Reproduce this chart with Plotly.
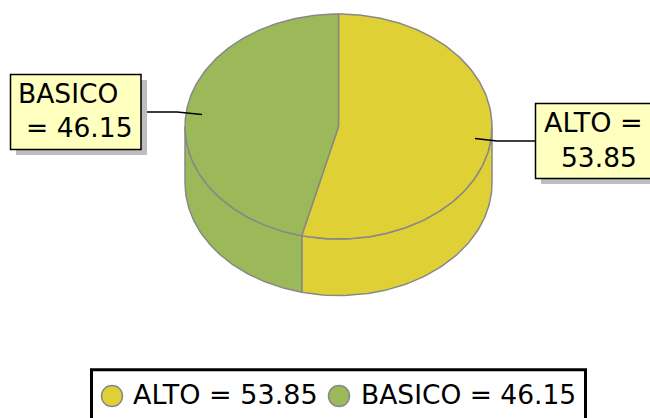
import numpy as np
import plotly.graph_objects as go

categories = ["ALTO", "BASICO"]
values = [53.85, 46.15]
colors = ["#DFD035", "#9BB959"]
GRAY = "#888888"
FONT = "DejaVu Sans"
CX, CY, RX, RY, DEPTH = 338.5, 126.5, 153.5, 112.5, 56.5


def pt(deg, dy=0.0):
    a = np.radians(np.asarray(deg, dtype=float))
    return CX + RX * np.sin(a), CY + dy - RY * np.cos(a)


fig = go.Figure()


def poly(x, y, fill, line=GRAY, width=1.5, name=""):
    fig.add_trace(go.Scatter(x=x, y=y, mode="lines", fill="toself", fillcolor=fill,
                             line=dict(color=line, width=width), hoverinfo="skip",
                             showlegend=False, name=name))


total = sum(values)
start = 0.0
slices = []
for cat, val, col in zip(categories, values, colors):
    end = start + val / total * 360
    slices.append((cat, val, col, start, end))
    start = end

# side walls (front half only)
for cat, val, col, a0, a1 in slices:
    lo, hi = max(a0, 90), min(a1, 270)
    if hi > lo:
        t = np.linspace(lo, hi, 80)
        xt, yt = pt(t)
        xb, yb = pt(t[::-1], DEPTH)
        poly(np.r_[xt, xb, xt[0]], np.r_[yt, yb, yt[0]], col, name=cat + " side")

# top faces
for cat, val, col, a0, a1 in slices:
    t = np.linspace(a0, a1, 160)
    xt, yt = pt(t)
    poly(np.r_[CX, xt, CX], np.r_[CY, yt, CY], col, name=cat)

shapes = []


def rect(x0, y0, x1, y1, fill, line=None, width=0):
    shapes.append(dict(type="rect", xref="x", yref="y", x0=x0, y0=y0, x1=x1, y1=y1,
                       fillcolor=fill, line=dict(color=line or fill, width=width),
                       layer="below"))


def leader(xs, ys):
    fig.add_trace(go.Scatter(x=xs, y=ys, mode="lines", line=dict(color="black", width=1.4),
                             hoverinfo="skip", showlegend=False))


leader([147, 177, 202], [112, 112, 114.5])
leader([535, 497, 475], [141, 141, 138.5])

rect(16, 80, 147, 155, "#BEBEBE")
rect(10.5, 74.5, 141, 149.5, "#FFFFBF", "black", 1.5)
rect(541, 109, 670, 184, "#BEBEBE")
rect(535.5, 103.5, 670, 178.5, "#FFFFBF", "black", 1.5)
rect(91.5, 369.8, 585.5, 440, "white", "black", 3)

annotations = []


def label(x, y, text, size=26.5):
    annotations.append(dict(x=x, y=y, xref="x", yref="y", text=text, showarrow=False,
                            xanchor="left", yanchor="middle",
                            font=dict(family=FONT, size=size, color="black"),
                            borderpad=0, borderwidth=0))


label(17.5, 93, categories[1])
label(25.5, 127.5, f"= {values[1]:.2f}")
label(543.5, 122, f"{categories[0]} =", 27)
label(561, 157, f"{values[0]:.2f}")
label(132.5, 394.5, f"{categories[0]} = {values[0]:.2f}", 27)
label(360.5, 394.5, f"{categories[1]} = {values[1]:.2f}")

# legend markers
fig.add_trace(go.Scatter(x=[112, 339], y=[396, 396], mode="markers",
                         marker=dict(size=21, color=colors, line=dict(color=GRAY, width=1.5)),
                         hoverinfo="skip", showlegend=False))

fig.update_layout(
    width=650, height=418, margin=dict(l=0, r=0, t=0, b=0),
    paper_bgcolor="white", plot_bgcolor="white", showlegend=False,
    xaxis=dict(range=[0, 650], visible=False, fixedrange=True),
    yaxis=dict(range=[418, 0], visible=False, fixedrange=True),
    shapes=shapes, annotations=annotations,
)

fig.write_html("out.html", config=dict(displayModeBar=False),
               post_script="document.body.style.margin='0';document.documentElement.style.overflow='hidden';")
